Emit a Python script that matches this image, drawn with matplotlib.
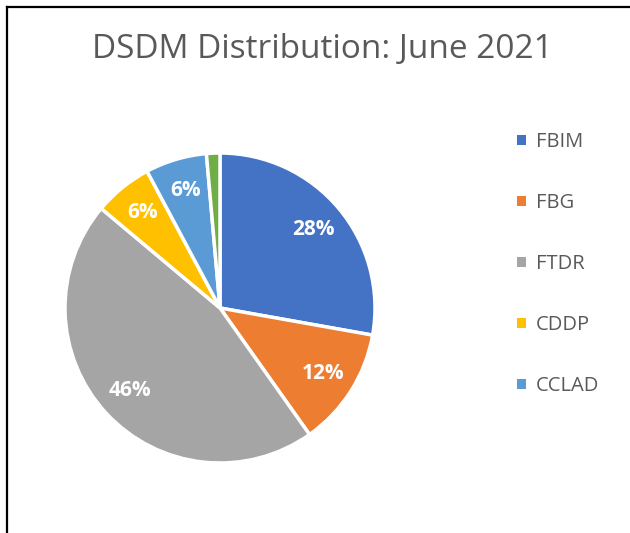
import matplotlib

matplotlib.use("Agg")
import matplotlib.pyplot as plt
import numpy as np
from matplotlib.lines import Line2D
from matplotlib.patches import Patch

# slice shares (percent of total), clockwise from 12 o'clock
categories = ["FBIM", "FBG", "FTDR", "CDDP", "CCLAD", "Other"]
shares = [27.8, 12.4, 45.9, 6.1, 6.4, 1.4]
slice_labels = ["28%", "12%", "46%", "6%", "6%", ""]
legend_names = ["FBIM", "FBG", "FTDR", "CDDP", "CCLAD"]

COLORS = ["#4472c4", "#ed7d31", "#a5a5a5", "#ffc000", "#5b9bd5", "#70ad47"]
INK = "#595959"

plt.rcParams["font.family"] = ["Open Sans", "DejaVu Sans"]

W, H = 630, 533
fig = plt.figure(figsize=(W / 100, H / 100), dpi=100, facecolor="white")

# chart frame: only top and left edges are visible in the crop
fig.add_artist(Line2D([7 / W, 7 / W], [0, 1 - 7 / H], color="black", lw=1.6, transform=fig.transFigure))
fig.add_artist(Line2D([7 / W, 1], [1 - 7 / H, 1 - 7 / H], color="black", lw=1.6, transform=fig.transFigure))

fig.text(322 / W, 1 - 50 / H, "DSDM Distribution: June 2021", ha="center", va="center",
         fontsize=24, color=INK)

cx, cy, r = 220, 308, 155
ax = fig.add_axes([(cx - r) / W, (H - cy - r) / H, 2 * r / W, 2 * r / H])
wedges, _ = ax.pie(shares, colors=COLORS, startangle=90, counterclock=False,
                   wedgeprops=dict(edgecolor="white", linewidth=2.5))
for w, lab in zip(wedges, slice_labels):
    if not lab:
        continue
    mid = np.deg2rad((w.theta1 + w.theta2) / 2)
    ax.text(0.79 * np.cos(mid), 0.79 * np.sin(mid), lab, ha="center", va="center",
            color="white", fontsize=15, fontweight="bold")
ax.set_xlim(-1, 1)
ax.set_ylim(-1, 1)
ax.set_aspect("equal")
ax.axis("off")

handles = [Patch(facecolor=c, edgecolor="none") for c in COLORS[: len(legend_names)]]
leg = fig.legend(handles, legend_names, loc="upper left", bbox_to_anchor=(499 / W, 1 - 114 / H),
                 frameon=False, fontsize=14.5, labelcolor=INK, handlelength=0.42, handleheight=0.42,
                 handletextpad=0.5, labelspacing=2.04)

fig.savefig("out.png", dpi=100, facecolor="white")
